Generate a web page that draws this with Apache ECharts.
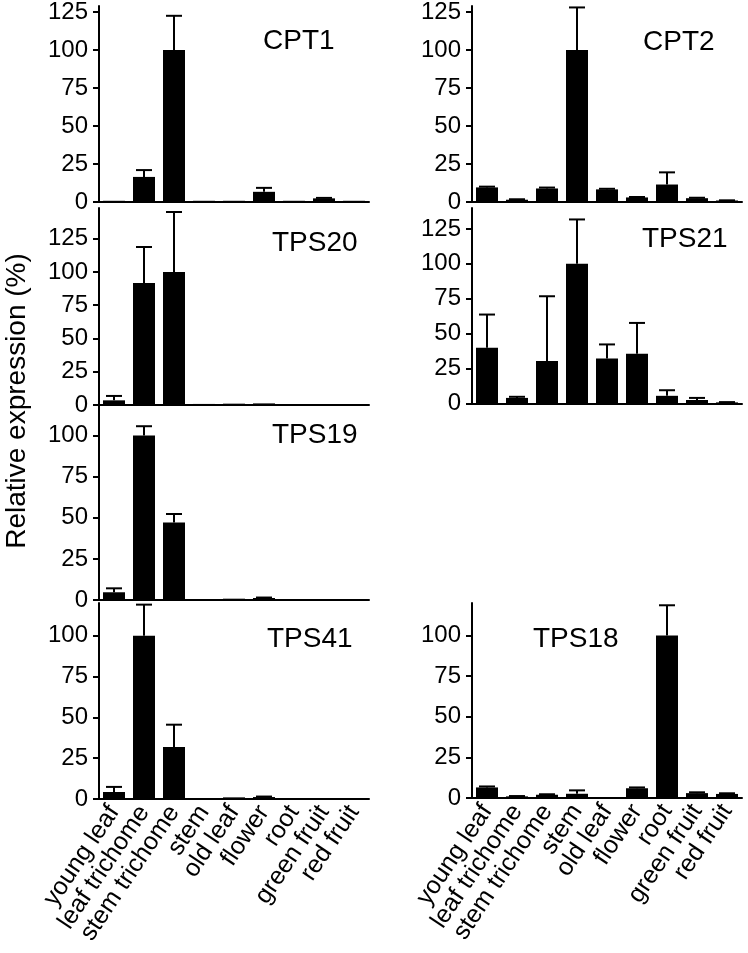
<!DOCTYPE html>
<html>
<head>
<meta charset="utf-8">
<script src="https://cdn.jsdelivr.net/npm/echarts@6/dist/echarts.min.js"></script>
<style>html,body{margin:0;padding:0;background:#fff}#c{width:748px;height:953px}</style>
</head>
<body>
<div id="c"></div>
<script>
const categories = ['young leaf', 'leaf trichome', 'stem trichome', 'stem', 'old leaf', 'flower', 'root', 'green fruit', 'red fruit'];
const genes = ['CPT1', 'CPT2', 'TPS20', 'TPS21', 'TPS19', 'TPS41', 'TPS18'];

const cpt1Mean = [0.8, 16.5, 100, 0.8, 0.8, 6.7, 0.8, 2.4, 0.8];
const cpt1Err  = [0, 4.5, 22.5, 0, 0, 2.6, 0, 0.3, 0];
const cpt2Mean = [9.6, 1.5, 8.9, 100, 8.3, 3, 11.5, 2.5, 1];
const cpt2Err  = [0.5, 0.3, 0.6, 28, 0.4, 0.3, 8, 0.3, 0.1];
const tps20Mean = [3.5, 91.7, 100, 0.8, 1, 1.2, 0.5, 0.5, 0.5];
const tps20Err  = [3.3, 27, 45, 0, 0, 0, 0, 0, 0];
const tps21Mean = [40, 4, 30.4, 100, 32.3, 35.6, 5.5, 2.5, 0.8];
const tps21Err  = [23.7, 0.8, 46.4, 31.8, 10, 22.1, 4, 1.5, 0.2];
const tps19Mean = [4.7, 100, 47.1, 0.5, 0.8, 1.2, 0.5, 0.5, 0.5];
const tps19Err  = [2.4, 5.7, 5.2, 0, 0, 0.3, 0, 0, 0];
const tps41Mean = [4.3, 100, 31.9, 0.6, 1, 1.2, 0.5, 0.5, 0.5];
const tps41Err  = [3.1, 19, 13.6, 0, 0, 0.3, 0, 0, 0];
const tps18Mean = [6.5, 1, 2, 2.6, 0, 6, 100, 3, 2.5];
const tps18Err  = [0.6, 0.2, 0.3, 2.1, 0, 0.5, 18.6, 0.5, 0.4];

const ticks125 = [0, 25, 50, 75, 100, 125];
const ticks100 = [0, 25, 50, 75, 100];
const axisMax = [129, 129, 148, 140, 118, 120, 120];
const yTitle = 'Relative expression (%)';

const means = [cpt1Mean, cpt2Mean, tps20Mean, tps21Mean, tps19Mean, tps41Mean, tps18Mean];
const errs = [cpt1Err, cpt2Err, tps20Err, tps21Err, tps19Err, tps41Err, tps18Err];
const tickSets = [ticks125, ticks125, ticks125, ticks125, ticks100, ticks100, ticks100];

// layout: left, top (axis top), zero line y, title x, title center y, show category labels
const layout = [
  {l: 99, t: 4.4, z: 202, tx: 263, ty: 41, lab: false},
  {l: 472, t: 4.4, z: 202, tx: 643, ty: 42, lab: false},
  {l: 99, t: 208, z: 405, tx: 272, ty: 243, lab: false},
  {l: 472, t: 208, z: 403.5, tx: 642, ty: 239, lab: false},
  {l: 99, t: 406, z: 600, tx: 272, ty: 435, lab: false},
  {l: 99, t: 603, z: 799, tx: 267, ty: 639, lab: true},
  {l: 472, t: 603, z: 798, tx: 533, ty: 639, lab: true}
];
const plotW = 270;
const FONT = 'Liberation Sans, Arial, sans-serif';

const grids = [], xAxes = [], yAxes = [], series = [], graphics = [];
layout.forEach((p, k) => {
  grids.push({left: p.l, top: p.t, width: plotW, height: p.z - p.t, containLabel: false});
  xAxes.push({
    type: 'category', gridIndex: k, data: categories,
    axisLine: {lineStyle: {color: '#000', width: 2}},
    axisTick: {show: false},
    axisLabel: {show: p.lab, rotate: 56, interval: 0, margin: 9, color: '#000', fontSize: 25, fontFamily: FONT},
    splitLine: {show: false}
  });
  yAxes.push({
    type: 'value', gridIndex: k, min: 0, max: axisMax[k],
    axisLine: {show: true, lineStyle: {color: '#000', width: 2}},
    axisTick: {show: true, length: 6, lineStyle: {color: '#000', width: 2}, customValues: tickSets[k]},
    axisLabel: {color: '#000', fontSize: 24, fontFamily: FONT, margin: 11, customValues: tickSets[k]},
    splitLine: {show: false}
  });
  series.push({
    type: 'bar', xAxisIndex: k, yAxisIndex: k, data: means[k],
    barWidth: 22, itemStyle: {color: '#000'}, silent: true, animation: false
  });
  series.push({
    type: 'custom', xAxisIndex: k, yAxisIndex: k, animation: false, silent: true, z: 5,
    data: means[k].map((m, i) => [i, m, errs[k][i]]),
    encode: {x: 0, y: 1},
    renderItem: function (params, api) {
      const i = api.value(0), m = api.value(1), e = api.value(2);
      if (!(e > 0)) return null;
      const p0 = api.coord([i, m]);
      const p1 = api.coord([i, m + e]);
      const hw = 8;
      return {
        type: 'group',
        children: [
          {type: 'line', shape: {x1: p0[0], y1: p0[1], x2: p1[0], y2: p1[1]}, style: {stroke: '#000', lineWidth: 2}},
          {type: 'line', shape: {x1: p1[0] - hw, y1: p1[1], x2: p1[0] + hw, y2: p1[1]}, style: {stroke: '#000', lineWidth: 2}}
        ]
      };
    }
  });
  graphics.push({
    type: 'text', x: p.tx, y: p.ty,
    style: {text: genes[k], fill: '#000', font: '28px ' + FONT, textAlign: 'left', textVerticalAlign: 'middle'}
  });
});
graphics.push({
  type: 'text', x: 17, y: 401, rotation: Math.PI / 2,
  style: {text: yTitle, fill: '#000', font: '28px ' + FONT, textAlign: 'center', textVerticalAlign: 'middle'}
});

const chart = echarts.init(document.getElementById('c'), null, {renderer: 'canvas'});
chart.setOption({
  animation: false,
  backgroundColor: '#fff',
  grid: grids, xAxis: xAxes, yAxis: yAxes, series: series, graphic: graphics
});
</script>
</body>
</html>
